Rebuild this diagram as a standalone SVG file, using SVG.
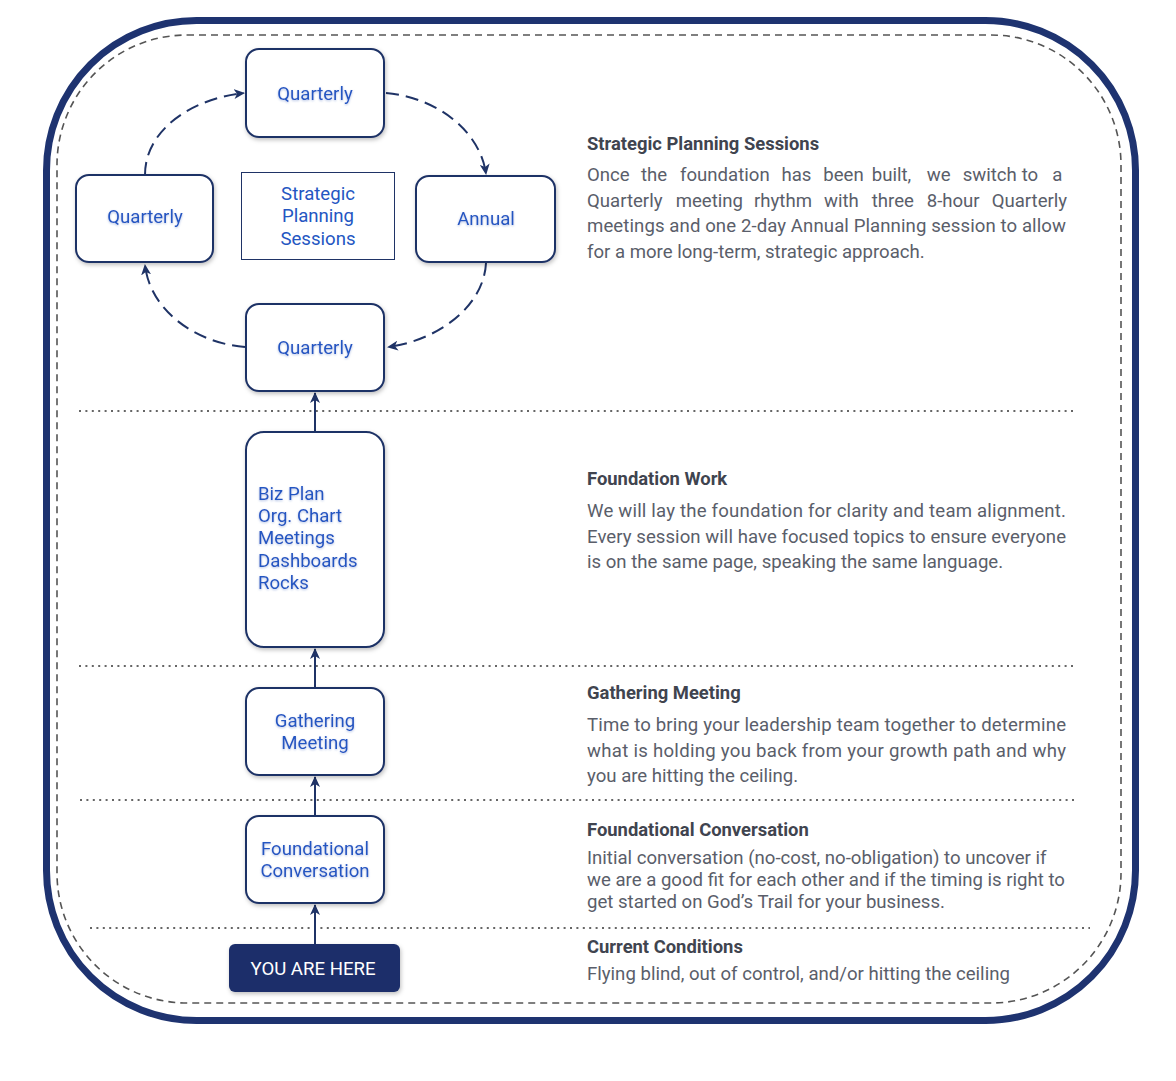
<svg xmlns="http://www.w3.org/2000/svg" width="1176" height="1081" viewBox="0 0 1176 1081">
<defs>
<style>
.node rect{fill:#fff;stroke:#1f3366;stroke-width:2}
.nt{font-family:Roboto,"Liberation Sans",sans-serif;font-size:18.6px;fill:#2456c2;text-anchor:middle}
.nl{text-anchor:start}
.hd{font-family:Roboto,"Liberation Sans",sans-serif;font-size:18.4px;font-weight:bold;fill:#40444f}
.bd{font-family:Roboto,"Liberation Sans",sans-serif;font-size:18.6px;fill:#5a5e6a}
.sep{stroke:#666;stroke-width:2;stroke-dasharray:2 4.4;fill:none}
.cyc{fill:none;stroke:#1f3366;stroke-width:2;stroke-dasharray:13 7}
.vl{fill:none;stroke:#1f3366;stroke-width:2}
</style>
<filter id="sh" x="-20%" y="-20%" width="140%" height="140%">
<feDropShadow dx="1" dy="2" stdDeviation="2" flood-color="#000" flood-opacity="0.25"/>
</filter>
<filter id="ts" x="-10%" y="-30%" width="120%" height="160%">
<feDropShadow dx="0" dy="1" stdDeviation="1" flood-color="#8fa6d8" flood-opacity="0.7"/>
</filter>
<marker id="ah" markerUnits="userSpaceOnUse" markerWidth="12" markerHeight="10" refX="10" refY="5" orient="auto">
<path d="M0,0 L11,5 L0,10 L3,5 z" fill="#1f3366"/>
</marker>
</defs>
<rect width="1176" height="1081" fill="#fff"/>
<g id="frame">
<rect x="46.5" y="20.5" width="1089" height="1000" rx="150" ry="150" fill="none" stroke="#1e3370" stroke-width="7"/>
<rect x="57" y="35" width="1064" height="968" rx="130" ry="130" fill="none" stroke="#555" stroke-width="1.6" stroke-dasharray="7 5"/>
</g>
<g id="separators">
<line class="sep" x1="79" y1="411" x2="1075" y2="411"/>
<line class="sep" x1="79" y1="666" x2="1075" y2="666"/>
<line class="sep" x1="80" y1="800" x2="1075" y2="800"/>
<line class="sep" x1="90" y1="928" x2="1090" y2="928"/>
</g>
<g id="connectors">
<path class="cyc" d="M145,175 C145,128 195,98 244,93" marker-end="url(#ah)"/>
<path class="cyc" d="M386,93 C435,97 480,130 486,174" marker-end="url(#ah)"/>
<path class="cyc" d="M486,263 C484,305 440,340 388,347" marker-end="url(#ah)"/>
<path class="cyc" d="M245,347 C195,343 150,310 145,265" marker-end="url(#ah)"/>
<line class="vl" x1="315" y1="432" x2="315" y2="393" marker-end="url(#ah)"/>
<line class="vl" x1="315" y1="688" x2="315" y2="649" marker-end="url(#ah)"/>
<line class="vl" x1="315" y1="816" x2="315" y2="777" marker-end="url(#ah)"/>
<line class="vl" x1="315" y1="944" x2="315" y2="905" marker-end="url(#ah)"/>
</g>
<g id="q-top" class="node"><rect x="246" y="49" width="138" height="88" rx="13" filter="url(#sh)"/><text class="nt" x="315" y="99.5" filter="url(#ts)">Quarterly</text></g>
<g id="q-left" class="node"><rect x="76" y="175" width="137" height="87" rx="13" filter="url(#sh)"/><text class="nt" x="145" y="222.5" filter="url(#ts)">Quarterly</text></g>
<g id="annual" class="node"><rect x="416" y="176" width="139" height="86" rx="13" filter="url(#sh)"/><text class="nt" x="486" y="224.5" filter="url(#ts)">Annual</text></g>
<g id="q-bottom" class="node"><rect x="246" y="304" width="138" height="87" rx="13" filter="url(#sh)"/><text class="nt" x="315" y="353.5" filter="url(#ts)">Quarterly</text></g>
<g id="sps-label"><rect x="241.5" y="172.5" width="153" height="87" fill="#fff" stroke="#1f3366" stroke-width="1"/>
<text class="nt" x="318" y="199.5">Strategic</text><text class="nt" x="318" y="221.5">Planning</text><text class="nt" x="318" y="244.5">Sessions</text></g>
<g id="foundation" class="node"><rect x="246" y="432" width="138" height="215" rx="18" filter="url(#sh)"/>
<text class="nt nl" x="258" y="499.5" filter="url(#ts)">Biz Plan</text>
<text class="nt nl" x="258" y="521.5" filter="url(#ts)">Org. Chart</text>
<text class="nt nl" x="258" y="543.5" filter="url(#ts)">Meetings</text>
<text class="nt nl" x="258" y="566.5" filter="url(#ts)">Dashboards</text>
<text class="nt nl" x="258" y="588.5" filter="url(#ts)">Rocks</text></g>
<g id="gathering" class="node"><rect x="246" y="688" width="138" height="87" rx="13" filter="url(#sh)"/>
<text class="nt" x="315" y="726.5" filter="url(#ts)">Gathering</text><text class="nt" x="315" y="748.5" filter="url(#ts)">Meeting</text></g>
<g id="foundational" class="node"><rect x="246" y="816" width="138" height="87" rx="13" filter="url(#sh)"/>
<text class="nt" x="315" y="854.5" filter="url(#ts)">Foundational</text><text class="nt" x="315" y="876.5" filter="url(#ts)">Conversation</text></g>
<g id="you-are-here"><rect x="229" y="944" width="171" height="48" rx="6" fill="#1b2f6b" filter="url(#sh)"/>
<text x="313" y="974.5" font-family="Roboto,'Liberation Sans',sans-serif" font-size="18.6" fill="#fff" text-anchor="middle">YOU ARE HERE</text></g>
<g id="desc-strategic">
<text class="hd" x="587" y="149.5">Strategic Planning Sessions</text>
<text class="bd" y="180.5"><tspan x="587">Once</tspan><tspan x="641">the</tspan><tspan x="680">foundation</tspan><tspan x="781.5">has</tspan><tspan x="823.3">been</tspan><tspan x="871.7">built,</tspan><tspan x="926.7">we</tspan><tspan x="962.7">switch</tspan><tspan x="1021.7">to</tspan><tspan x="1052.3">a</tspan></text>
<text class="bd" y="206.5"><tspan x="587">Quarterly</tspan><tspan x="675.7">meeting</tspan><tspan x="754">rhythm</tspan><tspan x="824">with</tspan><tspan x="871.7">three</tspan><tspan x="926.7">8-hour</tspan><tspan x="991.7">Quarterly</tspan></text>
<text class="bd" x="587" y="231.5" textLength="479" lengthAdjust="spacing">meetings and one 2-day Annual Planning session to allow</text>
<text class="bd" x="587" y="257.5">for a more long-term, strategic approach.</text>
</g>
<g id="desc-foundation">
<text class="hd" x="587" y="484.5">Foundation Work</text>
<text class="bd" x="587" y="516.5" textLength="479" lengthAdjust="spacing">We will lay the foundation for clarity and team alignment.</text>
<text class="bd" x="587" y="542.5" textLength="479" lengthAdjust="spacing">Every session will have focused topics to ensure everyone</text>
<text class="bd" x="587" y="567.5">is on the same page, speaking the same language.</text>
</g>
<g id="desc-gathering">
<text class="hd" x="587" y="698.5">Gathering Meeting</text>
<text class="bd" x="587" y="730.5" textLength="479" lengthAdjust="spacing">Time to bring your leadership team together to determine</text>
<text class="bd" x="587" y="756.5" textLength="479" lengthAdjust="spacing">what is holding you back from your growth path and why</text>
<text class="bd" x="587" y="781.5">you are hitting the ceiling.</text>
</g>
<g id="desc-foundational">
<text class="hd" x="587" y="835.5">Foundational Conversation</text>
<text class="bd" x="587" y="863.5">Initial conversation (no-cost, no-obligation) to uncover if</text>
<text class="bd" x="587" y="885.5">we are a good fit for each other and if the timing is right to</text>
<text class="bd" x="587" y="907.5">get started on God’s Trail for your business.</text>
</g>
<g id="desc-current">
<text class="hd" x="587" y="952.5">Current Conditions</text>
<text class="bd" x="587" y="979.5">Flying blind, out of control, and/or hitting the ceiling</text>
</g>
</svg>
